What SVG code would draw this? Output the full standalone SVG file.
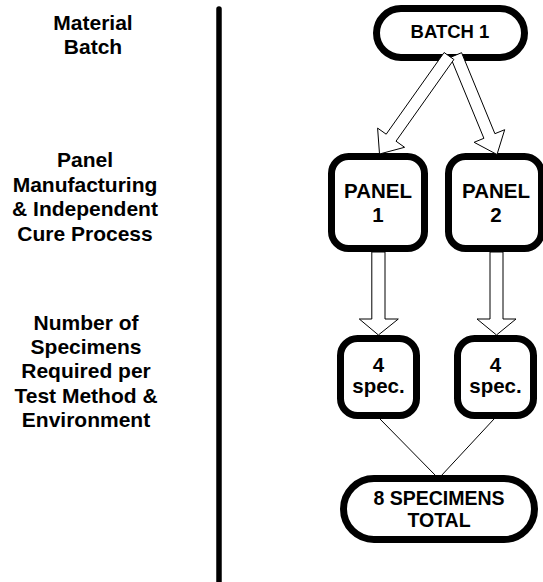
<svg xmlns="http://www.w3.org/2000/svg" width="543" height="582" viewBox="0 0 543 582">
<style>
.lbl{font-family:"Liberation Sans",Arial,sans-serif;font-weight:bold;font-size:21px;fill:#000;text-anchor:middle}
.nt{font-family:"Liberation Sans",Arial,sans-serif;font-weight:bold;font-size:20.5px;fill:#000;text-anchor:middle}
.box{fill:#fff;stroke:#000;stroke-width:7}
.barrow{fill:#fff;stroke:#000;stroke-width:1;stroke-linejoin:miter}
.ln{stroke:#000;stroke-width:1;fill:none}
</style>
<rect width="543" height="582" fill="#fff"/>
<g id="labels">
<text class="lbl" x="93" y="30">Material</text>
<text class="lbl" x="93" y="54">Batch</text>
<text class="lbl" x="85" y="167">Panel</text>
<text class="lbl" x="85" y="191.5">Manufacturing</text>
<text class="lbl" x="85" y="216">&amp; Independent</text>
<text class="lbl" x="85" y="240.5">Cure Process</text>
<text class="lbl" x="86" y="330">Number of</text>
<text class="lbl" x="86" y="354">Specimens</text>
<text class="lbl" x="86" y="378">Required per</text>
<text class="lbl" x="86" y="403">Test Method &amp;</text>
<text class="lbl" x="86" y="427">Environment</text>
</g>
<g id="divider">
<line x1="219" y1="9" x2="219" y2="590" stroke="#000" stroke-width="5.5" stroke-linecap="round"/>
</g>
<g id="batch1">
<rect class="box" x="376.5" y="8.5" width="148" height="49" rx="24.5"/>
<text class="nt" x="450" y="38" style="font-size:18.5px">BATCH 1</text>
</g>
<g id="panel1">
<rect class="box" x="331.5" y="156.5" width="93" height="92" rx="17"/>
<text class="nt" x="378" y="198">PANEL</text>
<text class="nt" x="378" y="221.5">1</text>
</g>
<g id="panel2">
<rect class="box" x="448.5" y="156.5" width="93" height="92" rx="17"/>
<text class="nt" x="496" y="198">PANEL</text>
<text class="nt" x="496" y="221.5">2</text>
</g>
<g id="spec1">
<rect class="box" x="340.5" y="338.5" width="76" height="77" rx="17"/>
<text class="nt" x="378.5" y="371.5">4</text>
<text class="nt" x="378.5" y="393">spec.</text>
</g>
<g id="spec2">
<rect class="box" x="457.5" y="338.5" width="76" height="77" rx="17"/>
<text class="nt" x="495.5" y="371.5">4</text>
<text class="nt" x="495.5" y="393">spec.</text>
</g>
<g id="total">
<rect class="box" x="343.5" y="478.5" width="191" height="61" rx="30.5"/>
<text class="nt" x="439" y="505" style="font-size:19.5px">8 SPECIMENS</text>
<text class="nt" x="439" y="527" style="font-size:19.5px">TOTAL</text>
</g>
<g id="connectors">
<polygon class="barrow" points="461.6,52.7 494.9,133.7 504.7,129.7 497,154.5 474.1,142.3 483.9,138.3 450.5,57.3"/>
<polygon class="barrow" points="453.9,59.5 396.0,141.2 404.6,147.3 379.5,154 377.6,128.1 386.2,134.2 444.1,52.5"/>
<polygon class="barrow" points="371.8,252 385,252 385,319 398.3,319 378.4,335 359.3,319 371.8,319"/>
<polygon class="barrow" points="490,252 503,252 503,319 516,319 496.5,335 477,319 490,319"/>
<line class="ln" x1="380" y1="419" x2="436" y2="476"/>
<line class="ln" x1="494" y1="419" x2="441" y2="476"/>
</g>
</svg>
